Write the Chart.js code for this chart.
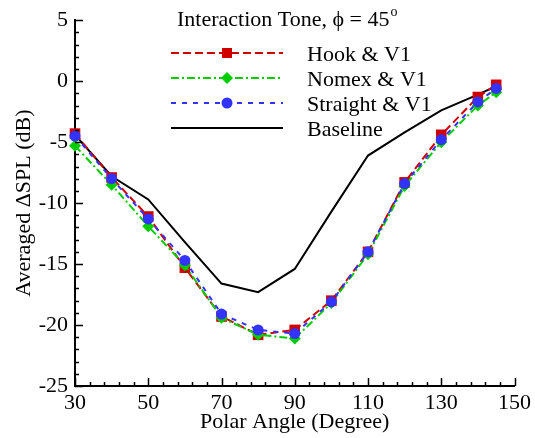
<!DOCTYPE html>
<html>
<head>
<meta charset="utf-8">
<script src="https://cdn.jsdelivr.net/npm/chart.js@4"></script>
<style>
  body { margin: 0; background: #fff; }
  #wrap { width: 535px; height: 438px; }
</style>
</head>
<body>
<div id="wrap"><canvas id="myChart" width="535" height="438"></canvas></div>
<script>
// values
const angles   = [30, 40, 50, 60, 70, 80, 90, 100, 110, 120, 130, 140, 145];
const hook     = [-4.3, -7.9, -11.1, -15.3, -19.3, -20.8, -20.4, -18.0, -14.0, -8.3, -4.4, -1.3, -0.3];
const nomex    = [-5.3, -8.5, -11.9, -15.1, -19.4, -20.8, -21.1, -18.2, -14.2, -8.6, -5.0, -2.0, -0.9];
const straight = [-4.5, -8.0, -11.3, -14.7, -19.1, -20.4, -20.7, -18.1, -14.0, -8.4, -4.8, -1.7, -0.6];
const baseline = [-4.4, -7.8, -9.7, -13.2, -16.6, -17.3, -15.4, -10.7, -6.1, -4.2, -2.4, -1.1, -0.4];
const xTicks = [30, 50, 70, 90, 110, 130, 150];
const yTicks = [-25, -20, -15, -10, -5, 0, 5];

const FONT = '"Liberation Serif", "Times New Roman", serif';

function pts(ys) {
    return angles.map((a, i) => ({x: a, y: ys[i]}));
}

// Tecplot-ish inward ticks, title and legend
const decor = {
    id: 'decor',
    afterDraw(chart) {
        const c = chart.ctx, xs = chart.scales.x, ys = chart.scales.y;
        const a = chart.chartArea;
        c.save();
        c.strokeStyle = '#000';
        c.lineWidth = 1.5;
        c.beginPath();
        for (let v = 30; v <= 150; v += 4) {
            const px = Math.round(xs.getPixelForValue(v)) + 0.5;
            const len = (v - 30) % 20 === 0 ? 8 : 4;
            c.moveTo(px, a.bottom); c.lineTo(px, a.bottom - len);
        }
        for (let v = -25; v <= 5; v += 1) {
            const py = Math.round(ys.getPixelForValue(v)) + 0.5;
            const len = v % 5 === 0 ? 8 : 4;
            c.moveTo(a.left, py); c.lineTo(a.left + len, py);
        }
        c.stroke();

        // title
        c.fillStyle = '#000';
        c.textBaseline = 'alphabetic';
        c.textAlign = 'left';
        c.font = '22px ' + FONT;
        const t = 'Interaction Tone, \u03D5 = 45';
        c.fillText(t, 177, 26);
        const w = c.measureText(t).width;
        c.font = '14px ' + FONT;
        c.fillText('o', 177 + w + 1, 16);

        // legend
        const rows = [
            {label: 'Hook & V1', color: '#d00000', dash: [8, 4], mark: 'rect'},
            {label: 'Nomex & V1', color: '#00cc00', dash: [8, 3, 2, 3], mark: 'diamond'},
            {label: 'Straight & V1', color: '#3333ff', dash: [5, 6], mark: 'circle'},
            {label: 'Baseline', color: '#000', dash: [], mark: null}
        ];
        rows.forEach((r, i) => {
            const y = 53 + i * 25;
            c.strokeStyle = r.color;
            c.lineWidth = 2;
            c.setLineDash(r.dash);
            c.beginPath();
            c.moveTo(171, y); c.lineTo(283, y);
            c.stroke();
            c.setLineDash([]);
            c.fillStyle = r.color;
            if (r.mark === 'rect') {
                c.fillRect(227 - 5, y - 5, 10, 10);
            } else if (r.mark === 'diamond') {
                c.beginPath();
                c.moveTo(227, y - 6); c.lineTo(233, y); c.lineTo(227, y + 6); c.lineTo(221, y);
                c.closePath(); c.fill();
            } else if (r.mark === 'circle') {
                c.beginPath(); c.arc(227, y, 5.5, 0, Math.PI * 2); c.fill();
            }
            c.fillStyle = '#000';
            c.font = '22px ' + FONT;
            c.fillText(r.label, 307, y + 8);
        });
        c.restore();
    }
};

var ctx = document.getElementById('myChart');

const chart = new Chart(ctx, {
    type: 'line',
    data: {
        datasets: [
            {
                label: 'Straight & V1', data: pts(straight), order: 0,
                borderColor: '#3333ff', backgroundColor: '#3333ff', borderWidth: 2,
                borderDash: [5, 6], pointStyle: 'circle', pointRadius: 5.5,
                pointBorderWidth: 0, clip: false
            },
            {
                label: 'Nomex & V1', data: pts(nomex), order: 1,
                borderColor: '#00cc00', backgroundColor: '#00cc00', borderWidth: 2,
                borderDash: [8, 3, 2, 3], pointStyle: 'rectRot', pointRadius: 6,
                pointBorderWidth: 0, clip: false
            },
            {
                label: 'Hook & V1', data: pts(hook), order: 2,
                borderColor: '#d00000', backgroundColor: '#d00000', borderWidth: 2,
                borderDash: [8, 4], pointStyle: 'rect', pointRadius: 7.5,
                pointBorderWidth: 0, clip: false
            },
            {
                label: 'Baseline', data: pts(baseline), order: 3,
                borderColor: '#000', backgroundColor: '#000', borderWidth: 2,
                pointRadius: 0, clip: false
            }
        ]
    },
    options: {
        responsive: false,
        animation: false,
        events: [],
        layout: {padding: {top: 20, right: 19, left: 0, bottom: 0}},
        plugins: {legend: {display: false}, tooltip: {enabled: false}},
        scales: {
            x: {
                type: 'linear', min: 30, max: 150,
                afterBuildTicks: (s) => { s.ticks = xTicks.map(v => ({value: v})); },
                afterFit: (s) => { s.height = 52; },
                grid: {display: false, drawTicks: false},
                border: {display: true, color: '#000', width: 2},
                ticks: {color: '#000', padding: 4, maxRotation: 0, autoSkip: false,
                        font: {family: FONT, size: 22}},
                title: {display: true, text: 'Polar Angle (Degree)', color: '#000',
                        font: {family: FONT, size: 22}, padding: {top: 0, bottom: 3}}
            },
            y: {
                type: 'linear', min: -25, max: 5,
                afterBuildTicks: (s) => { s.ticks = yTicks.map(v => ({value: v})); },
                afterFit: (s) => { s.width = 75; },
                grid: {display: false, drawTicks: false},
                border: {display: true, color: '#000', width: 2},
                ticks: {color: '#000', padding: 7, autoSkip: false,
                        font: {family: FONT, size: 22}},
                title: {display: true, text: 'Averaged \u0394SPL (dB)', color: '#000',
                        font: {family: FONT, size: 22}, padding: {top: 11, bottom: 0}}
            }
        }
    },
    plugins: [decor]
});
</script>
</body>
</html>
